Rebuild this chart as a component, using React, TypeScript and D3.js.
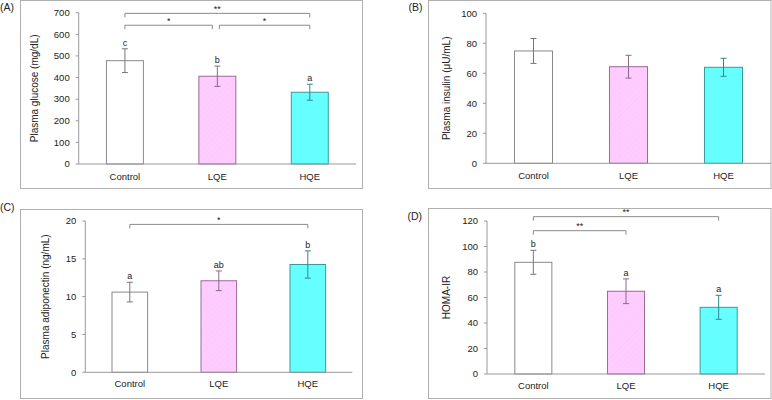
import React from "react";
import * as d3 from "d3";

const categories = ["Control", "LQE", "HQE"];

const glucoseMean = [478, 406, 332];
const glucoseErr = [55, 47, 37];
const glucoseLetters = ["c", "b", "a"];
const glucoseBrackets = [
  { from: 0, to: 2, level: 697, label: "**" },
  { from: 0, to: 1, level: 642, label: "*" },
  { from: 1, to: 2, level: 642, label: "*" },
];

const insulinMean = [74.9, 64.4, 64.0];
const insulinErr = [8.3, 7.6, 6.0];
const insulinLetters: string[] = ["", "", ""];
const insulinBrackets: { from: number; to: number; level: number; label: string }[] = [];

const adiponectinMean = [10.6, 12.1, 14.25];
const adiponectinErr = [1.3, 1.3, 1.8];
const adiponectinLetters = ["a", "ab", "b"];
const adiponectinBrackets = [{ from: 0, to: 2, level: 19.55, label: "*" }];

const homaMean = [87.6, 64.9, 52.3];
const homaErr = [9.4, 9.7, 9.4];
const homaLetters = ["b", "a", "a"];
const homaBrackets = [
  { from: 0, to: 2, level: 123.4, label: "**" },
  { from: 0, to: 1, level: 112.4, label: "**" },
];

const glucoseTicks = [0, 100, 200, 300, 400, 500, 600, 700];
const insulinTicks = [0, 20, 40, 60, 80, 100];
const adiponectinTicks = [0, 5, 10, 15, 20];
const homaTicks = [0, 20, 40, 60, 80, 100, 120];

const barFill = ["#ffffff", "url(#hatchPink)", "#66ffff"];
const barStroke = ["#8a8a8a", "#9a6a9a", "#3a9a9a"];
const errStroke = ["#777777", "#8a6a8a", "#2f8a8a"];

const FONT = "'Liberation Sans', Arial, sans-serif";
const TEXT = "#222";

type Bracket = { from: number; to: number; level: number; label: string };

type PanelProps = {
  tag: string;
  tagPos: [number, number];
  frame: { x: number; y: number; w: number; h: number };
  plot: { left: number; right: number; top: number; bottom: number };
  yMax: number;
  ticks: number[];
  yLabel: string;
  yLabelX: number;
  xLabelY: number;
  means: number[];
  errs: number[];
  letters: string[];
  brackets: Bracket[];
};

function Panel(p: PanelProps) {
  const x = d3
    .scaleBand<string>()
    .domain(categories)
    .range([p.plot.left, p.plot.right])
    .padding(0);
  const y = d3.scaleLinear().domain([0, p.yMax]).range([p.plot.bottom, p.plot.top]);
  const bw = x.bandwidth() * 0.4;
  const cx = (i: number) => (x(categories[i]) as number) + x.bandwidth() / 2;
  const yMid = (p.plot.top + p.plot.bottom) / 2;

  return (
    <g>
      <rect
        x={p.frame.x}
        y={p.frame.y}
        width={p.frame.w}
        height={p.frame.h}
        fill="none"
        stroke="#b0b0b0"
        strokeWidth={1}
      />
      <text x={p.tagPos[0]} y={p.tagPos[1]} fontFamily={FONT} fontSize={10.5} fill={TEXT}>
        {p.tag}
      </text>
      <line x1={p.plot.left} x2={p.plot.left} y1={y(p.yMax)} y2={y(0)} stroke="#999" />
      {p.ticks.map((t) => (
        <g key={t}>
          <line x1={p.plot.left - 3} x2={p.plot.left} y1={y(t)} y2={y(t)} stroke="#999" />
          <text
            x={p.plot.left - 9}
            y={y(t)}
            dy="0.35em"
            textAnchor="end"
            fontFamily={FONT}
            fontSize={9.5}
            fill={TEXT}
          >
            {t}
          </text>
        </g>
      ))}
      <text
        transform={`translate(${p.yLabelX},${yMid}) rotate(-90)`}
        textAnchor="middle"
        dy="0.35em"
        fontFamily={FONT}
        fontSize={10}
        fill={TEXT}
      >
        {p.yLabel}
      </text>
      {categories.map((c, i) => {
        const top = y(p.means[i]);
        const eTop = y(p.means[i] + p.errs[i]);
        const eBot = y(p.means[i] - p.errs[i]);
        const xc = cx(i);
        return (
          <g key={c}>
            <rect
              x={xc - bw / 2}
              y={top}
              width={bw}
              height={y(0) - top}
              fill={barFill[i]}
              stroke={barStroke[i]}
              strokeWidth={1}
            />
            <line x1={xc} x2={xc} y1={eTop} y2={eBot} stroke={errStroke[i]} />
            <line x1={xc - 3} x2={xc + 3} y1={eTop} y2={eTop} stroke={errStroke[i]} />
            <line x1={xc - 3} x2={xc + 3} y1={eBot} y2={eBot} stroke={errStroke[i]} />
            {p.letters[i] ? (
              <text
                x={xc}
                y={eTop - 3}
                textAnchor="middle"
                fontFamily={FONT}
                fontSize={9}
                fill={TEXT}
              >
                {p.letters[i]}
              </text>
            ) : null}
            <text
              x={xc}
              y={p.xLabelY}
              dy="0.35em"
              textAnchor="middle"
              fontFamily={FONT}
              fontSize={9.5}
              fill={TEXT}
            >
              {c}
            </text>
          </g>
        );
      })}
      <line x1={p.plot.left} x2={p.plot.right} y1={y(0)} y2={y(0)} stroke="#999" />
      {p.brackets.map((b, k) => {
        const shareEnd = p.brackets.some(
          (o, j) => j !== k && o.level === b.level && o.from === b.to
        );
        const shareStart = p.brackets.some(
          (o, j) => j !== k && o.level === b.level && o.to === b.from
        );
        const x1 = cx(b.from) + (shareStart ? 2 : 0);
        const x2 = cx(b.to) - (shareEnd ? 5 : 0);
        const yy = y(b.level);
        return (
          <g key={k}>
            <path
              d={`M${x1},${yy + 4}V${yy}H${x2}V${yy + 4}`}
              fill="none"
              stroke="#8a8a8a"
              strokeWidth={1}
            />
            <text
              x={(x1 + x2) / 2}
              y={yy - 1.5}
              textAnchor="middle"
              fontFamily={FONT}
              fontSize={9}
              fill={TEXT}
            >
              {b.label}
            </text>
          </g>
        );
      })}
    </g>
  );
}

export default function App() {
  return (
    <svg
      width={772}
      height={400}
      style={{ position: "absolute", left: 0, top: 0, background: "#fff" }}
    >
      <defs>
        <pattern
          id="hatchPink"
          width={4}
          height={4}
          patternUnits="userSpaceOnUse"
          patternTransform="rotate(45)"
        >
          <rect width={4} height={4} fill="#ffccff" />
          <line x1={0} y1={0} x2={0} y2={4} stroke="#f9c6f9" strokeWidth={1} />
        </pattern>
      </defs>
      <rect width={772} height={400} fill="#fff" />
      <Panel
        tag="(A)"
        tagPos={[0, 11]}
        frame={{ x: 20.5, y: 0.5, w: 342, h: 188 }}
        plot={{ left: 78.7, right: 356, top: 12.7, bottom: 164 }}
        yMax={700}
        ticks={glucoseTicks}
        yLabel="Plasma glucose (mg/dL)"
        yLabelX={34}
        xLabelY={176.7}
        means={glucoseMean}
        errs={glucoseErr}
        letters={glucoseLetters}
        brackets={glucoseBrackets}
      />
      <Panel
        tag="(B)"
        tagPos={[408.5, 10.5]}
        frame={{ x: 428.5, y: 0.5, w: 342.5, h: 188 }}
        plot={{ left: 486, right: 771, top: 13.3, bottom: 163.3 }}
        yMax={100}
        ticks={insulinTicks}
        yLabel="Plasma insulin (μU/mL)"
        yLabelX={446}
        xLabelY={175.7}
        means={insulinMean}
        errs={insulinErr}
        letters={insulinLetters}
        brackets={insulinBrackets}
      />
      <Panel
        tag="(C)"
        tagPos={[0, 210.5]}
        frame={{ x: 20.5, y: 209.5, w: 342, h: 189 }}
        plot={{ left: 85.3, right: 352.3, top: 221, bottom: 372.3 }}
        yMax={20}
        ticks={adiponectinTicks}
        yLabel="Plasma adiponectin (ng/mL)"
        yLabelX={45}
        xLabelY={383.7}
        means={adiponectinMean}
        errs={adiponectinErr}
        letters={adiponectinLetters}
        brackets={adiponectinBrackets}
      />
      <Panel
        tag="(D)"
        tagPos={[407.5, 219.5]}
        frame={{ x: 428.5, y: 208.5, w: 342.5, h: 190 }}
        plot={{ left: 487, right: 765, top: 221, bottom: 374 }}
        yMax={120}
        ticks={homaTicks}
        yLabel="HOMA-IR"
        yLabelX={446}
        xLabelY={385.7}
        means={homaMean}
        errs={homaErr}
        letters={homaLetters}
        brackets={homaBrackets}
      />
    </svg>
  );
}
